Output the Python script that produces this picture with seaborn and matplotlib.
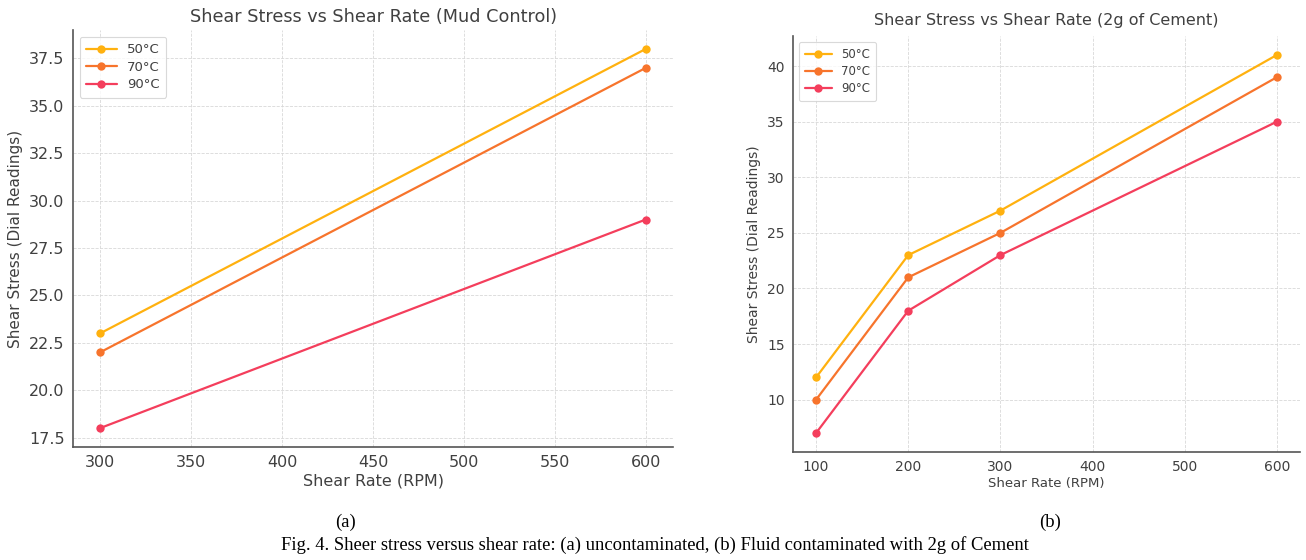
import matplotlib
matplotlib.use("Agg")
import matplotlib.pyplot as plt
import seaborn as sns
import pandas as pd

# ---- data ----
temps = ["50°C", "70°C", "90°C"]
colors = ["#FFB10F", "#F7742C", "#F43E5C"]

rate_a = [300, 600]
stress_a_50 = [23, 38]
stress_a_70 = [22, 37]
stress_a_90 = [18, 29]

rate_b = [100, 200, 300, 600]
stress_b_50 = [12, 23, 27, 41]
stress_b_70 = [10, 21, 25, 39]
stress_b_90 = [7, 18, 23, 35]

title_a = "Shear Stress vs Shear Rate (Mud Control)"
title_b = "Shear Stress vs Shear Rate (2g of Cement)"
xlabel = "Shear Rate (RPM)"
ylabel = "Shear Stress (Dial Readings)"
caption = "Fig. 4. Sheer stress versus shear rate: (a) uncontaminated, (b) Fluid contaminated with 2g of Cement"

sns.set_style("white")
plt.rcParams["font.family"] = ["DejaVu Sans"]

TXT = "#404040"
SPINE = "#555555"

fig = plt.figure(figsize=(13.06, 5.6), dpi=100)
W, H = 1306, 560


def px_axes(x0, y0, x1, y1):
    return fig.add_axes([x0 / W, 1 - y1 / H, (x1 - x0) / W, (y1 - y0) / H])


def draw(ax, rates, series, title, fs_tick, fs_xl, fs_yl, fs_title, fs_leg, title_pad):
    for lab, col, vals in zip(temps, colors, series):
        df = pd.DataFrame({"rate": rates, "stress": vals})
        sns.lineplot(data=df, x="rate", y="stress", ax=ax, color=col, label=lab,
                     marker="o", markersize=6, markeredgewidth=0, linewidth=1.6)
    ax.grid(True, linestyle="--", linewidth=0.6, color="#d8d8d8")
    ax.set_axisbelow(True)
    for s in ["top", "right"]:
        ax.spines[s].set_visible(False)
    for s in ["left", "bottom"]:
        ax.spines[s].set_color(SPINE)
        ax.spines[s].set_linewidth(1.2)
    ax.tick_params(direction="in", length=4, width=1, color=SPINE,
                   labelsize=fs_tick, labelcolor=TXT, pad=6)
    ax.set_xlabel(xlabel, fontsize=fs_xl, color=TXT, labelpad=2)
    ax.set_ylabel(ylabel, fontsize=fs_yl, color=TXT, labelpad=4)
    ax.set_title(title, fontsize=fs_title, color=TXT, pad=title_pad)
    leg = ax.legend(loc="upper left", fontsize=fs_leg, frameon=True,
                    handlelength=2.3, borderpad=0.5, labelspacing=0.35,
                    fancybox=True)
    leg.get_frame().set_edgecolor("#d0d0d0")
    leg.get_frame().set_linewidth(0.8)
    for t in leg.get_texts():
        t.set_color(TXT)


ax_a = px_axes(73, 30, 673, 447)
draw(ax_a, rate_a, [stress_a_50, stress_a_70, stress_a_90], title_a,
     11.5, 11.5, 11, 12.7, 9.5, 6)

ax_b = px_axes(793, 36, 1300, 452)
draw(ax_b, rate_b, [stress_b_50, stress_b_70, stress_b_90], title_b,
     10, 9.5, 10, 11.5, 8.5, 8)

fig.text(345 / W, 1 - 522 / H, "(a)", ha="center", va="center",
         fontsize=13.4, family="Liberation Serif", color="black")
fig.text(1050 / W, 1 - 522 / H, "(b)", ha="center", va="center",
         fontsize=13.4, family="Liberation Serif", color="black")
fig.text(655 / W, 1 - 545 / H, caption, ha="center", va="center",
         fontsize=13.4, family="Liberation Serif", color="black")

fig.savefig("out.png", dpi=100, facecolor="white")
